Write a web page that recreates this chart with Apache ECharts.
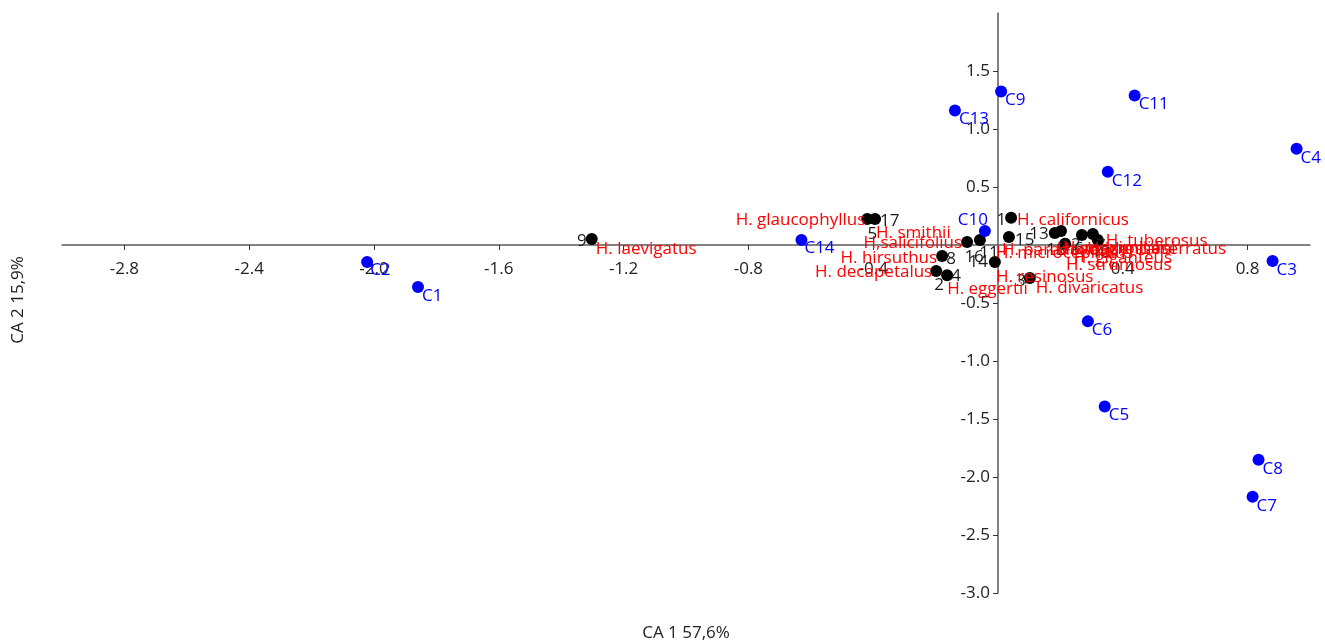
<!DOCTYPE html>
<html>
<head>
<meta charset="utf-8">
<script src="https://cdn.jsdelivr.net/npm/echarts@6/dist/echarts.min.js"></script>
<style>
  html, body { margin: 0; padding: 0; background: #ffffff; }
  #chart { width: 1325px; height: 644px; }
</style>
</head>
<body>
<div id="chart"></div>
<script>
// Correspondence analysis biplot: column scores (C1..C14) and row scores (species 1..18)
const colNames = ['C1','C2','C3','C4','C5','C6','C7','C8','C9','C10','C11','C12','C13','C14'];
const colAxis1 = [-1.859, -2.022, 0.880, 0.957, 0.342, 0.288, 0.816, 0.835, 0.010, -0.042, 0.438, 0.352, -0.138, -0.630];
const colAxis2 = [-0.363, -0.147, -0.138, 0.830, -1.393, -0.657, -2.171, -1.851, 1.324, 0.121, 1.289, 0.631, 1.159, 0.043];

const rowNumbers = ['1','2','3','4','5','6','7','8','9','10','11','12','13','14','15','16','17','18'];
const rowNames = [
  'H. californicus', 'H. decapetalus', 'H. divaricatus', 'H. eggertii', 'H. glaucophyllus',
  'H. grosseserratus', 'H. giganteus', 'H. hirsuthus', 'H. laevigatus', 'H. tuberosus',
  'H. microcephalus', 'H. strumosus', 'H. occidentalis', 'H. resinosus', 'H. paradoxus',
  'H,salicifolius', 'H. smithii', 'H. maximiliani'
];
const rowAxis1 = [0.042, -0.198, 0.102, -0.163, -0.419, 0.269, 0.304, -0.179, -1.302, 0.320,
                  -0.058, 0.202, 0.182, -0.010, 0.035, -0.099, -0.394, 0.215];
const rowAxis2 = [0.234, -0.225, -0.285, -0.260, 0.225, 0.087, 0.095, -0.095, 0.052, 0.043,
                  0.043, 0.121, 0.104, -0.147, 0.069, 0.026, 0.225, 0.010];

const xTickValues = [-2.8, -2.4, -2.0, -1.6, -1.2, -0.8, -0.4, 0.4, 0.8];
const yTickValues = [-3.0, -2.5, -2.0, -1.5, -1.0, -0.5, 0.5, 1.0, 1.5];

// Label placement (pixels from the point centre): [dx, dy, align]
const colPlacement = [
  [4, 9, 'left'], [3, 8, 'left'], [4, 9, 'left'], [4, 9, 'left'], [4, 9, 'left'],
  [4, 9, 'left'], [4, 9, 'left'], [4, 9, 'left'], [4, 9, 'left'], [3, -11, 'right'],
  [4, 9, 'left'], [4, 9, 'left'], [4, 9, 'left'], [3, 8, 'left']
];
const numberPlacement = [
  [-5, 2, 'right'], [3, 14, 'center'], [-4, 3, 'right'], [9, 1, 'center'], [5, 15, 'center'],
  [-3, 14, 'center'], [8, 12, 'center'], [9, 3, 'center'], [-5, 2, 'right'], [3, 12, 'center'],
  [9, 13, 'center'], [10, 14, 'center'], [-6, 1, 'right'], [-7, 0, 'right'], [6, 3, 'left'],
  [7, 15, 'center'], [5, 2, 'left'], [-9, 6, 'center']
];
const namePlacement = [
  [6, 2, 'left'], [-4, 1, 'right'], [6, 10, 'left'], [0, 14, 'left'], [-2, 1, 'right'],
  [5, 14, 'left'], [-19, 24, 'left'], [-5, 2, 'right'], [4, 10, 'left'], [8, 1, 'left'],
  [16, 13, 'left'], [5, 34, 'left'], [2, 16, 'left'], [1, 15, 'left'], [-7, 13, 'left'],
  [-5, 1, 'right'], [1, 14, 'left'], [-2, 4, 'left']
];

const FONT = '"Open Sans", "Noto Sans", sans-serif';
const FS = 17;
const SYM = 12;

function placedLabel(p, color) {
  return {
    show: true,
    formatter: '{b}',
    position: [SYM / 2 + p[0], SYM / 2 + p[1]],
    align: p[2],
    verticalAlign: 'middle',
    color: color,
    fontFamily: FONT,
    fontSize: FS
  };
}

const colData = colNames.map((n, i) => ({
  name: n, value: [colAxis1[i], colAxis2[i]], label: placedLabel(colPlacement[i], '#0000ff')
}));
const rowDotData = rowNumbers.map((n, i) => ({
  name: n, value: [rowAxis1[i], rowAxis2[i]], label: placedLabel(numberPlacement[i], '#1a1a1a')
}));
const rowNameData = rowNames.map((n, i) => ({
  name: n, value: [rowAxis1[i], rowAxis2[i]], label: placedLabel(namePlacement[i], '#ff0000')
}));

const GRID = { left: 62, right: 15, top: 13, bottom: 51 };
const chartEl = document.getElementById('chart');
const chart = echarts.init(chartEl, null, { renderer: 'canvas' });

const axisText = { color: '#222222', fontFamily: FONT, fontSize: FS };
chart.setOption({
  animation: false,
  backgroundColor: '#ffffff',
  grid: Object.assign({ containLabel: false }, GRID),
  xAxis: {
    type: 'value', min: -3.0, max: 1.0, position: 'bottom', offset: 0,
    splitLine: { show: false },
    axisLine: { onZero: false, lineStyle: { color: '#5a5a5a', width: 1.5 } },
    axisTick: { show: true, length: 5, lineStyle: { color: '#333333' }, customValues: xTickValues },
    axisLabel: Object.assign({ customValues: xTickValues, margin: 16, formatter: v => v.toFixed(1) }, axisText)
  },
  yAxis: {
    type: 'value', min: -3.0, max: 2.0, position: 'left', offset: 0,
    splitLine: { show: false },
    axisLine: { onZero: false, lineStyle: { color: '#5a5a5a', width: 1.5 } },
    axisTick: { show: true, length: 5, lineStyle: { color: '#333333' }, customValues: yTickValues },
    axisLabel: Object.assign({ customValues: yTickValues, margin: 8, formatter: v => v.toFixed(1) }, axisText)
  },
  graphic: [
    { type: 'text', x: 686, y: 633,
      style: { text: 'CA 1 57,6%', fill: '#222222', font: FS + 'px ' + FONT, align: 'center', verticalAlign: 'middle' } },
    { type: 'text', x: 18, y: 300, rotation: Math.PI / 2,
      style: { text: 'CA 2 15,9%', fill: '#222222', font: FS + 'px ' + FONT, align: 'center', verticalAlign: 'middle' } }
  ],
  series: [
    {
      name: 'Rows', type: 'scatter', symbol: 'circle', symbolSize: SYM,
      itemStyle: { color: '#000000', opacity: 1 }, data: rowDotData, z: 3
    },
    {
      name: 'Row names', type: 'scatter', symbol: 'circle', symbolSize: SYM,
      itemStyle: { color: 'rgba(0,0,0,0)', opacity: 1 }, data: rowNameData, z: 4
    },
    {
      name: 'Columns', type: 'scatter', symbol: 'circle', symbolSize: SYM,
      itemStyle: { color: '#0000ff', opacity: 1 }, data: colData, z: 5
    }
  ]
});

// Move both axes so that they cross at the origin of the plot
const origin = chart.convertToPixel({ gridIndex: 0 }, [0, 0]);
const gridBottom = chartEl.clientHeight - GRID.bottom;
chart.setOption({
  xAxis: { offset: origin[1] - gridBottom },
  yAxis: { offset: GRID.left - origin[0] }
});
</script>
</body>
</html>
